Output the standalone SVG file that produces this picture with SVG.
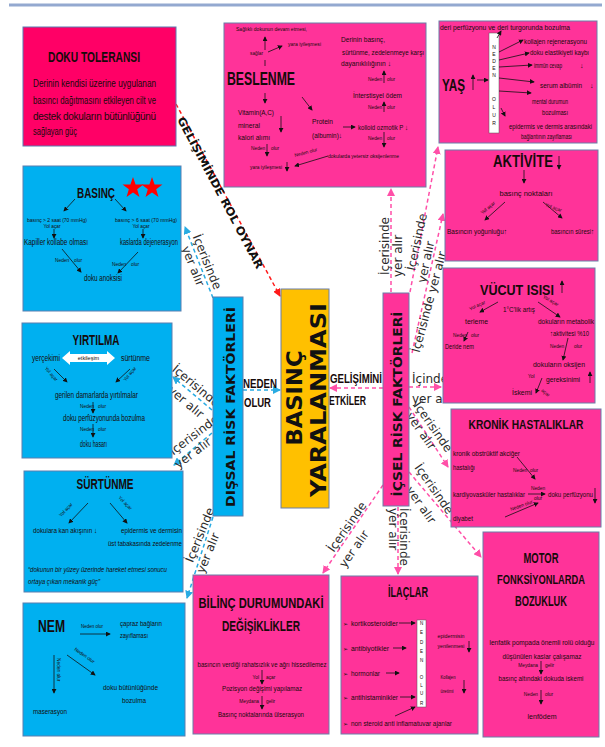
<svg xmlns="http://www.w3.org/2000/svg" width="605" height="747" viewBox="0 0 605 747">
<defs>
<style>
.c{font-family:"Liberation Sans","DejaVu Sans Condensed",sans-serif;fill:#160a0a}
.b{font-weight:bold}
.v{font-family:"DejaVu Sans",sans-serif}
.lab{font-family:"DejaVu Sans",sans-serif;font-size:12px;fill:#2b2b2b}
.pk{fill:#ff3399;stroke:#6b7ea8;stroke-width:1}
.bl{fill:#00b0f0;stroke:#5a7fb0;stroke-width:1}
.ln{stroke:#111;stroke-width:0.8;fill:none;marker-end:url(#a)}
.pl{stroke:#111;stroke-width:0.8;fill:none}
.cb{stroke:#29abe2;stroke-width:1.5;fill:none;stroke-dasharray:4 3;marker-end:url(#mb)}
.cp{stroke:#ff4fa8;stroke-width:1.5;fill:none;stroke-dasharray:4 3;marker-end:url(#mp)}
.cr{stroke:#ff1a1a;stroke-width:1.5;fill:none;stroke-dasharray:4 3;marker-end:url(#mr)}
.xs{font-size:4.8px}
.s7{font-size:7.4px}
.s8{font-size:8.4px}
</style>
<marker id="a" viewBox="0 0 6 6" refX="5" refY="3" markerWidth="5" markerHeight="5" markerUnits="userSpaceOnUse" orient="auto"><path d="M0,0 L6,3 L0,6 z" fill="#111"/></marker>
<marker id="mb" viewBox="0 0 8 8" refX="7" refY="4" markerWidth="8" markerHeight="8" markerUnits="userSpaceOnUse" orient="auto"><path d="M0,0 L8,4 L0,8 z" fill="#29abe2"/></marker>
<marker id="mp" viewBox="0 0 8 8" refX="7" refY="4" markerWidth="8" markerHeight="8" markerUnits="userSpaceOnUse" orient="auto"><path d="M0,0 L8,4 L0,8 z" fill="#ff4fa8"/></marker>
<marker id="mr" viewBox="0 0 8 8" refX="7" refY="4" markerWidth="8" markerHeight="8" markerUnits="userSpaceOnUse" orient="auto"><path d="M0,0 L8,4 L0,8 z" fill="#ff1a1a"/></marker>
<path id="star" d="M0,-11 L2.59,-3.56 L10.46,-3.4 L4.18,1.36 L6.47,8.9 L0,4.4 L-6.47,8.9 L-4.18,1.36 L-10.46,-3.4 L-2.59,-3.56 z" fill="#ff0000"/>
</defs>
<rect width="605" height="747" fill="#ffffff"/>
<line x1="9" y1="5" x2="602" y2="5" stroke="#94a9d0" stroke-width="3"/>

<g id="connectors">
<path class="cr" d="M176,104 L280,296"/>
<text class="v b" font-size="11" fill="#111" textLength="170" lengthAdjust="spacingAndGlyphs" text-anchor="middle" dominant-baseline="central" transform="translate(220,193) rotate(62)">GELİŞİMİNDE ROL OYNAR</text>

<path class="cb" d="M243,390 L280,390"/>
<text class="c b" font-size="12" x="243" y="388" textLength="34" lengthAdjust="spacingAndGlyphs">NEDEN</text>
<text class="c b" font-size="12" x="244" y="407" textLength="27" lengthAdjust="spacingAndGlyphs">OLUR</text>
<path class="cp" d="M383,388 L330,388"/>
<text class="c b" font-size="12" x="330" y="383" textLength="52" lengthAdjust="spacingAndGlyphs">GELİŞİMİNİ</text>
<text class="c b" font-size="12" x="329" y="405" textLength="37" lengthAdjust="spacingAndGlyphs">ETKİLER</text>

<path class="cb" d="M213,298 L185,227"/>
<text class="lab" text-anchor="middle" dominant-baseline="central" transform="translate(207,262) rotate(68)">İçerisinde</text>
<text class="lab" text-anchor="middle" dominant-baseline="central" transform="translate(193,266) rotate(68)">yer alır</text>

<path class="cb" d="M212,410 L173,377"/>
<text class="lab" text-anchor="middle" dominant-baseline="central" transform="translate(196,386) rotate(40)">İçerisinde</text>
<text class="lab" text-anchor="middle" dominant-baseline="central" transform="translate(186,402) rotate(40)">yer alır</text>

<path class="cb" d="M212,433 L174,465"/>
<text class="lab" text-anchor="middle" dominant-baseline="central" transform="translate(194,435) rotate(-37)">İçerisinde</text>
<text class="lab" text-anchor="middle" dominant-baseline="central" transform="translate(193,453) rotate(-37)">yer alır</text>

<path class="cb" d="M213,517 L187,598"/>
<text class="lab" text-anchor="middle" dominant-baseline="central" transform="translate(200,535) rotate(-68)">İçerisinde</text>
<text class="lab" text-anchor="middle" dominant-baseline="central" transform="translate(208,553) rotate(-68)">yer alır</text>

<path class="cp" d="M391,292 L391,189"/>
<text class="lab" text-anchor="middle" dominant-baseline="central" transform="translate(385,246) rotate(-90)">İçerisinde</text>
<text class="lab" text-anchor="middle" dominant-baseline="central" transform="translate(398,256) rotate(-90)">yer alır</text>

<path class="cp" d="M410,292 L438,147"/>
<text class="lab" text-anchor="middle" dominant-baseline="central" transform="translate(417,242) rotate(-78)">İçerisinde</text>
<text class="lab" text-anchor="middle" dominant-baseline="central" transform="translate(426,262) rotate(-78)">yer alır</text>

<path class="cp" d="M412,353 L443,214"/>
<text class="lab" text-anchor="middle" dominant-baseline="central" transform="translate(429,302) rotate(-75)">İçerisinde yer alır</text>

<path class="cp" d="M409,387 L441,387"/>
<text class="lab" x="412" y="383">İçinde</text>
<text class="lab" x="412" y="403">yer alır</text>

<path class="cp" d="M409,407 L448,467"/>
<text class="lab" text-anchor="middle" dominant-baseline="central" transform="translate(433,427) rotate(55)">İçerisinde</text>
<text class="lab" text-anchor="middle" dominant-baseline="central" transform="translate(421,431) rotate(55)">yer alır</text>

<path class="cp" d="M409,472 L481,557"/>
<text class="lab" text-anchor="middle" dominant-baseline="central" transform="translate(434,489) rotate(55)">İçerisinde</text>
<text class="lab" text-anchor="middle" dominant-baseline="central" transform="translate(421,505) rotate(55)">yer alır</text>

<path class="cp" d="M398,507 L398,574"/>
<text class="lab" dominant-baseline="central" transform="translate(404,508) rotate(90)">İçerisinde</text>
<text class="lab" dominant-baseline="central" transform="translate(393,508) rotate(90)">yer alır</text>

<path class="cp" d="M383,485 L323,573"/>
<text class="lab" text-anchor="middle" dominant-baseline="central" transform="translate(347,527) rotate(-55)">İçerisinde</text>
<text class="lab" text-anchor="middle" dominant-baseline="central" transform="translate(354,549) rotate(-55)">yer alır</text>
</g>

<g id="basinc-yaralanmasi">
<rect x="281" y="289" width="48" height="219" fill="#ffc000" stroke="#6b7ea8"/>
<text class="v b" font-size="22" fill="#111" text-anchor="middle" dominant-baseline="central" textLength="95" lengthAdjust="spacingAndGlyphs" transform="translate(294,398) rotate(-90)">BASINÇ</text>
<text class="v b" font-size="22" fill="#111" text-anchor="middle" dominant-baseline="central" textLength="194" lengthAdjust="spacingAndGlyphs" transform="translate(318,400) rotate(-90)">YARALANMASI</text>
</g>

<g id="dissal">
<rect x="213" y="297" width="30" height="219" class="bl"/>
<text class="v b" font-size="13" fill="#111" text-anchor="middle" dominant-baseline="central" textLength="200" lengthAdjust="spacingAndGlyphs" transform="translate(230,407) rotate(-90)">DIŞSAL RİSK FAKTÖRLERİ</text>
</g>

<g id="icsel">
<rect x="383" y="293" width="26" height="213" class="pk"/>
<text class="v b" font-size="13" fill="#111" text-anchor="middle" dominant-baseline="central" textLength="185" lengthAdjust="spacingAndGlyphs" transform="translate(397,404) rotate(-90)">İÇSEL RİSK FAKTÖRLERİ</text>
</g>

<g id="doku-toleransi">
<rect x="23" y="27" width="153" height="119" fill="#ff0066" stroke="#5b7ab0"/>
<text class="c b" font-size="14" x="94" y="62" text-anchor="middle" textLength="92" lengthAdjust="spacingAndGlyphs">DOKU TOLERANSI</text>
<text class="c" font-size="10" fill="#3d0018" x="33" y="87" textLength="123" lengthAdjust="spacingAndGlyphs">Derinin kendisi üzerine uygulanan</text>
<text class="c" font-size="10" fill="#3d0018" x="33" y="103.5" textLength="123" lengthAdjust="spacingAndGlyphs">basıncı dağıtmasını etkileyen cilt ve</text>
<text class="c" font-size="10" fill="#3d0018" x="33" y="120" textLength="123" lengthAdjust="spacing">destek dokuların bütünlüğünü</text>
<text class="c" font-size="10" fill="#3d0018" x="33" y="135" textLength="44" lengthAdjust="spacingAndGlyphs">sağlayan güç</text>
</g>

<g id="basinc">
<rect x="23" y="166" width="158" height="145" class="bl"/>
<text class="c b" font-size="14" x="96" y="198" text-anchor="middle" textLength="38" lengthAdjust="spacingAndGlyphs">BASINÇ</text>
<use href="#star" x="133" y="188"/>
<use href="#star" x="152" y="188"/>
<path class="ln" d="M75,199 L64,211"/>
<path class="ln" d="M115,199 L126,211"/>
<text class="c" font-size="6" x="57" y="222" text-anchor="middle" textLength="60" lengthAdjust="spacingAndGlyphs">basınç &gt; 2 saat (70  mmHg)</text>
<text class="c xs" x="52" y="228" text-anchor="middle">Yol açar</text>
<path class="ln" d="M54,229 L54,238"/>
<text class="c s8" x="24" y="245" textLength="64" lengthAdjust="spacingAndGlyphs">Kapiller kollabe olması</text>
<text class="c" font-size="6" x="146" y="222" text-anchor="middle" textLength="62" lengthAdjust="spacingAndGlyphs">basınç &gt; 6 saat (70  mmHg)</text>
<text class="c xs" x="141" y="228" text-anchor="middle">Yol açar</text>
<path class="ln" d="M143,229 L143,238"/>
<text class="c s8" x="149" y="245" text-anchor="middle" textLength="58" lengthAdjust="spacingAndGlyphs">kaslarda dejenerasyon</text>
<path class="ln" d="M62,249 L81,272"/>
<path class="ln" d="M138,252 L118,273"/>
<text class="c xs" x="55" y="262">Neden</text>
<text class="c xs" x="74" y="262">olur</text>
<text class="c xs" x="112" y="266">Neden</text>
<text class="c xs" x="131" y="266">olur</text>
<text class="c s8" x="103" y="281" text-anchor="middle" textLength="38" lengthAdjust="spacingAndGlyphs">doku anoksisi</text>
</g>

<g id="yirtilma">
<rect x="22" y="323" width="150" height="135" class="bl"/>
<text class="c b" font-size="14" x="96" y="345" text-anchor="middle" textLength="47" lengthAdjust="spacingAndGlyphs">YIRTILMA</text>
<text class="c s8" x="32" y="361" textLength="28" lengthAdjust="spacingAndGlyphs">yerçekimi</text>
<polygon points="62,358 70,351 70,354 107,354 107,351 115,358 107,365 107,362 70,362 70,365" fill="#ffffff"/>
<text class="c" font-size="5.5" fill="#777" x="88.5" y="360" text-anchor="middle">etkileşim</text>
<text class="c s8" x="121" y="361" textLength="29" lengthAdjust="spacingAndGlyphs">sürtünme</text>
<path class="ln" d="M54,369 L67,382"/>
<path class="ln" d="M130,369 L116,382"/>
<text class="c xs" text-anchor="middle" transform="translate(50,375) rotate(50)">Yol açar</text>
<text class="c xs" text-anchor="middle" transform="translate(131,375) rotate(-50)">Yol açar</text>
<text class="c s8" x="55" y="398" textLength="83" lengthAdjust="spacingAndGlyphs">gerilen damarlarda yırtılmalar</text>
<text class="c xs" x="80" y="408">Neden</text>
<path class="ln" d="M93,402 L93,413"/>
<text class="c xs" x="98" y="408">olur</text>
<text class="c s8" x="63" y="421" textLength="82" lengthAdjust="spacingAndGlyphs">doku perfüzyonunda bozulma</text>
<text class="c xs" x="80" y="431">Neden</text>
<path class="ln" d="M93,424 L93,437"/>
<text class="c xs" x="98" y="431">olur</text>
<text class="c s8" x="80" y="447" textLength="27" lengthAdjust="spacingAndGlyphs">doku hasarı</text>
</g>

<g id="surtunme">
<rect x="24" y="471" width="159" height="121" class="bl"/>
<text class="c b" font-size="14" x="105" y="489" text-anchor="middle" textLength="57" lengthAdjust="spacingAndGlyphs">SÜRTÜNME</text>
<path class="ln" d="M88,503 L69,523"/>
<path class="ln" d="M110,503 L127,523"/>
<text class="c xs" text-anchor="middle" transform="translate(67,511) rotate(-48)">Yol açar</text>
<text class="c xs" text-anchor="middle" transform="translate(124,504) rotate(45)">Yol açar</text>
<text class="c s7" x="33" y="533" textLength="64" lengthAdjust="spacingAndGlyphs">dokulara kan akışının ↓</text>
<text class="c s7" x="121" y="533" textLength="61" lengthAdjust="spacingAndGlyphs">epidermis ve dermisin</text>
<text class="c s7" x="108" y="546" textLength="74" lengthAdjust="spacingAndGlyphs">üst tabakasında zedelenme</text>
<text class="c" font-size="7" font-style="italic" x="28" y="572" textLength="139" lengthAdjust="spacingAndGlyphs">“dokunun bir yüzey üzerinde hareket etmesi sonucu</text>
<text class="c" font-size="7" font-style="italic" x="28" y="584" textLength="72" lengthAdjust="spacingAndGlyphs">ortaya çıkan mekanik güç”</text>
</g>

<g id="nem">
<rect x="23" y="603" width="162" height="133" class="bl"/>
<text class="c b" font-size="17" x="38" y="632" textLength="27" lengthAdjust="spacingAndGlyphs">NEM</text>
<text class="c xs" x="81" y="628" textLength="22" lengthAdjust="spacingAndGlyphs">Neden olur</text>
<path class="ln" d="M80,634 L110,634"/>
<text class="c s7" x="120" y="626" textLength="42" lengthAdjust="spacingAndGlyphs">çapraz bağların</text>
<text class="c s7" x="120" y="638" textLength="28" lengthAdjust="spacingAndGlyphs">zayıflaması</text>
<path class="ln" d="M67,655 L95,675"/>
<text class="c xs" transform="translate(74,650) rotate(35)">Neden olur</text>
<path class="ln" d="M54,655 L54,693"/>
<text class="c xs" transform="translate(57,658) rotate(90)">Neden olur</text>
<text class="c s7" x="103" y="690" textLength="55" lengthAdjust="spacingAndGlyphs">doku bütünlüğünde</text>
<text class="c s7" x="122" y="703" textLength="24" lengthAdjust="spacingAndGlyphs">bozulma</text>
<text class="c s7" x="33" y="714" textLength="34" lengthAdjust="spacingAndGlyphs">maserasyon</text>
</g>

<g id="beslenme">
<rect x="224" y="23" width="202" height="164" class="pk"/>
<text class="c" font-size="5.3" x="236" y="31" textLength="71" lengthAdjust="spacingAndGlyphs">Sağlıklı dokunun devam etmesi,</text>
<path class="ln" d="M265,50 L265,37"/>
<text class="c" font-size="5.3" x="250" y="55" textLength="13" lengthAdjust="spacingAndGlyphs">sağlar</text>
<path class="ln" d="M268,52 L282,46"/>
<text class="c" font-size="5.3" x="288" y="46" textLength="33" lengthAdjust="spacingAndGlyphs">yara iyileşmesi</text>
<path class="pl" d="M265,60 L265,66"/>
<text class="c b" font-size="19" x="227" y="85" textLength="68" lengthAdjust="spacingAndGlyphs">BESLENME</text>
<text class="c s7" x="341" y="42" textLength="44" lengthAdjust="spacingAndGlyphs">Derinin basınç,</text>
<text class="c s7" x="342" y="55" textLength="82" lengthAdjust="spacingAndGlyphs">sürtünme, zedelenmeye karşı</text>
<text class="c s7" x="341" y="66" textLength="50" lengthAdjust="spacingAndGlyphs">dayanıklılığının ↓</text>
<path class="ln" d="M384,83 L384,71"/>
<text class="c xs" x="368" y="81">Neden</text>
<text class="c xs" x="387" y="81">olur</text>
<text class="c s7" x="353" y="98" textLength="49" lengthAdjust="spacingAndGlyphs">İnterstisyel ödem</text>
<path class="ln" d="M384,112 L384,102"/>
<text class="c xs" x="368" y="109">Neden</text>
<text class="c xs" x="387" y="109">olur</text>
<path class="ln" d="M265,93 L265,103"/>
<path class="ln" d="M302,97 L312,110"/>
<text class="c s7" x="238" y="115" textLength="36" lengthAdjust="spacingAndGlyphs">Vitamin(A,C)</text>
<text class="c s7" x="238" y="128" textLength="22" lengthAdjust="spacingAndGlyphs">mineral</text>
<text class="c s7" x="238" y="140" textLength="32" lengthAdjust="spacingAndGlyphs">kalori alımı</text>
<path class="ln" d="M281,116 L281,132"/>
<text class="c s7" x="312" y="124" textLength="21" lengthAdjust="spacingAndGlyphs">Protein</text>
<text class="c s7" x="312" y="138" textLength="30" lengthAdjust="spacingAndGlyphs">(albumin)↓</text>
<path class="ln" d="M343,127 L355,127"/>
<text class="c s7" x="358" y="130" textLength="50" lengthAdjust="spacingAndGlyphs">kolloid ozmotik P ↓</text>
<path class="ln" d="M384,132 L384,147"/>
<text class="c xs" x="368" y="140">Neden</text>
<text class="c xs" x="387" y="140">olur</text>
<text class="c xs" x="251" y="150">Neden</text>
<path class="ln" d="M267,144 L267,156"/>
<text class="c xs" x="271" y="150">olur</text>
<text class="c" font-size="5.3" x="328" y="158" textLength="71" lengthAdjust="spacingAndGlyphs">dokularda yetersiz oksijenlenme</text>
<path class="ln" d="M328,156 L295,166"/>
<text class="c xs" transform="translate(295,157) rotate(-15)">Neden  olur</text>
<text class="c" font-size="5.3" x="250" y="169" textLength="32" lengthAdjust="spacingAndGlyphs">yara iyileşmesi</text>
<path class="ln" d="M287,162 L287,171"/>
</g>

<g id="yas">
<rect x="439" y="21" width="158" height="122" class="pk"/>
<text class="c" font-size="6.8" x="440" y="30" textLength="130" lengthAdjust="spacingAndGlyphs">deri perfüzyonu ve deri turgorunda bozulma</text>
<text class="c b" font-size="16" x="442" y="91" textLength="23" lengthAdjust="spacingAndGlyphs">YAŞ</text>
<path class="ln" d="M473,90 L473,75"/>
<path class="ln" d="M477,80 L488,80"/>
<rect x="489" y="33" width="10" height="100" fill="#ffffff" stroke="#555" stroke-width="0.5"/>
<g class="c" font-size="5" text-anchor="middle">
<text x="494" y="49">N</text><text x="494" y="56">E</text><text x="494" y="63">D</text><text x="494" y="70">E</text><text x="494" y="77">N</text>
<text x="494" y="101">O</text><text x="494" y="109">L</text><text x="494" y="117">U</text><text x="494" y="125">R</text>
</g>
<path class="ln" d="M497,38 L501,31"/>
<path class="ln" d="M499,52 L523,40"/>
<path class="ln" d="M499,60 L529,53"/>
<path class="ln" d="M499,67 L532,65"/>
<path class="ln" d="M499,78 L534,82"/>
<path class="ln" d="M499,91 L531,93"/>
<path class="ln" d="M501,108 L505,116"/>
<text class="c" font-size="6.8" x="524" y="44" textLength="63" lengthAdjust="spacingAndGlyphs">kollajen rejenerasyonu</text>
<text class="c" font-size="6.8" x="530" y="55" textLength="59" lengthAdjust="spacingAndGlyphs">doku elastikiyeti kaybı</text>
<text class="c" font-size="6.8" x="534" y="68" textLength="28" lengthAdjust="spacingAndGlyphs">immün cevap</text>
<text class="c" font-size="7" x="580" y="68">↓</text>
<text class="c" font-size="6.8" x="540" y="88" textLength="42" lengthAdjust="spacingAndGlyphs">serum albümin</text>
<text class="c" font-size="7" x="590" y="88">↓</text>
<text class="c" font-size="6.8" x="532" y="104" textLength="36" lengthAdjust="spacingAndGlyphs">mental durumun</text>
<text class="c" font-size="6.8" x="542" y="115" textLength="26" lengthAdjust="spacingAndGlyphs">bozulması</text>
<text class="c" font-size="6.8" x="509" y="129" textLength="83" lengthAdjust="spacingAndGlyphs">epidermis ve dermis arasındaki</text>
<text class="c" font-size="6.8" x="521" y="139" textLength="51" lengthAdjust="spacingAndGlyphs">bağlantının zayıflaması</text>
</g>

<g id="aktivite">
<rect x="445" y="150" width="153" height="111" class="pk"/>
<text class="c b" font-size="16" x="493" y="167" textLength="60" lengthAdjust="spacingAndGlyphs">AKTİVİTE</text>
<path class="ln" d="M559,156 L559,169"/>
<path class="ln" d="M524,170 L524,183"/>
<text class="c s7" x="526" y="196" text-anchor="middle" textLength="53" lengthAdjust="spacingAndGlyphs">basınç noktaları</text>
<path class="ln" d="M505,202 L485,220"/>
<path class="ln" d="M543,202 L562,218"/>
<text class="c xs" text-anchor="middle" transform="translate(489,209) rotate(-40)">Yol açar</text>
<text class="c xs" text-anchor="middle" transform="translate(553,209) rotate(20)">Yol açar</text>
<text class="c s7" x="447" y="234" textLength="60" lengthAdjust="spacingAndGlyphs">Basıncın yoğunluğu↑</text>
<text class="c s7" x="551" y="234" textLength="43" lengthAdjust="spacingAndGlyphs">basıncın süresi↑</text>
</g>

<g id="vucut-isisi">
<rect x="443" y="268" width="152" height="135" class="pk"/>
<text class="c b" font-size="14" x="480" y="295" textLength="74" lengthAdjust="spacingAndGlyphs">VÜCUT ISISI</text>
<path class="ln" d="M562,293 L562,281"/>
<text class="c s7" x="503" y="312" textLength="32" lengthAdjust="spacingAndGlyphs">1°C'lik artış</text>
<text class="c xs" text-anchor="middle" transform="translate(478,307) rotate(-25)">Yol açar</text>
<text class="c xs" text-anchor="middle" transform="translate(550,302) rotate(30)">Yol açar</text>
<path class="ln" d="M498,302 L480,312"/>
<path class="ln" d="M538,302 L560,317"/>
<text class="c s7" x="465" y="324" textLength="23" lengthAdjust="spacingAndGlyphs">terleme</text>
<text class="c s7" x="538" y="324" textLength="56" lengthAdjust="spacingAndGlyphs">dokuların metabolik</text>
<text class="c s7" x="550" y="336" textLength="39" lengthAdjust="spacingAndGlyphs">↑aktivitesi %10</text>
<text class="c xs" x="453" y="337">Neden</text>
<path class="ln" d="M468,332 L464,341"/>
<text class="c xs" x="471" y="337">olur</text>
<text class="c s7" x="445" y="349" textLength="29" lengthAdjust="spacingAndGlyphs">Deride nem</text>
<text class="c xs" x="550" y="348">Neden</text>
<path class="ln" d="M568,338 L563,360"/>
<text class="c xs" x="574" y="348">olur</text>
<text class="c s7" x="533" y="367" textLength="52" lengthAdjust="spacingAndGlyphs">dokuların oksijen</text>
<text class="c s7" x="546" y="382" textLength="34" lengthAdjust="spacingAndGlyphs">gereksinimi</text>
<path class="ln" d="M590,383 L590,372"/>
<path class="ln" d="M542,378 L536,393"/>
<text class="c xs" x="528" y="378">Yol</text>
<text class="c xs" transform="translate(541,391) rotate(40)">açar</text>
<text class="c s7" x="512" y="395" textLength="20" lengthAdjust="spacingAndGlyphs">İskemi</text>
</g>

<g id="kronik">
<rect x="451" y="409" width="150" height="118" class="pk"/>
<text class="c b" font-size="12" x="526" y="429" text-anchor="middle" textLength="115" lengthAdjust="spacingAndGlyphs">KRONİK HASTALIKLAR</text>
<text class="c s7" x="453" y="456" textLength="67" lengthAdjust="spacingAndGlyphs">kronik obstrüktif akciğer</text>
<text class="c s7" x="453" y="470" textLength="22" lengthAdjust="spacingAndGlyphs">hastalığı</text>
<path class="ln" d="M517,457 L535,479"/>
<text class="c xs" x="513" y="472">Neden</text>
<text class="c xs" x="530" y="472">olur</text>
<text class="c" font-size="6.6" x="453" y="497" textLength="72" lengthAdjust="spacingAndGlyphs">kardiyovasküler hastalıklar</text>
<path class="ln" d="M528,494 L545,494"/>
<text class="c xs" x="538" y="490" text-anchor="middle">Neden</text>
<text class="c xs" x="538" y="500" text-anchor="middle">olur</text>
<text class="c s7" x="548" y="497" textLength="45" lengthAdjust="spacingAndGlyphs">doku perfüzyonu</text>
<path class="ln" d="M595,488 L595,503"/>
<path class="ln" d="M505,517 L538,503"/>
<text class="c xs" transform="translate(511,511) rotate(-20)">Neden olur</text>
<text class="c s7" x="453" y="521" textLength="20" lengthAdjust="spacingAndGlyphs">diyabet</text>
</g>

<g id="motor">
<rect x="483" y="532" width="116" height="205" class="pk"/>
<text class="c b" font-size="14" x="541" y="563" text-anchor="middle" textLength="35" lengthAdjust="spacingAndGlyphs">MOTOR</text>
<text class="c b" font-size="12" x="541" y="584" text-anchor="middle" textLength="88" lengthAdjust="spacingAndGlyphs">FONKSİYONLARDA</text>
<text class="c b" font-size="14" x="541" y="606" text-anchor="middle" textLength="52" lengthAdjust="spacingAndGlyphs">BOZUKLUK</text>
<text class="c" font-size="6.6" x="542" y="645" text-anchor="middle" textLength="105" lengthAdjust="spacingAndGlyphs">lenfatik pompada önemli rolü olduğu</text>
<text class="c s7" x="542" y="659" text-anchor="middle" textLength="79" lengthAdjust="spacingAndGlyphs">düşünülen kaslar çalışamaz</text>
<text class="c xs" x="538" y="667" text-anchor="end">Meydana</text>
<path class="ln" d="M541,661 L541,674"/>
<text class="c xs" x="545" y="667">gelir</text>
<text class="c s7" x="541" y="681" text-anchor="middle" textLength="85" lengthAdjust="spacingAndGlyphs">basınç altındaki dokuda iskemi</text>
<text class="c xs" x="538" y="696" text-anchor="end">Neden</text>
<path class="ln" d="M541,690 L541,704"/>
<text class="c xs" x="545" y="696">olur</text>
<text class="c s7" x="542" y="719" text-anchor="middle" textLength="29" lengthAdjust="spacingAndGlyphs">lenfödem</text>
</g>

<g id="bilinc">
<rect x="193" y="575" width="136" height="159" class="pk"/>
<text class="c b" font-size="14" x="261" y="608" text-anchor="middle" textLength="125" lengthAdjust="spacingAndGlyphs">BİLİNÇ DURUMUNDAKİ</text>
<text class="c b" font-size="14" x="261" y="631" text-anchor="middle" textLength="78" lengthAdjust="spacingAndGlyphs">DEĞİŞİKLİKLER</text>
<text class="c s7" x="262" y="667" text-anchor="middle" textLength="129" lengthAdjust="spacingAndGlyphs">basıncın verdiği rahatsızlık ve ağrı hissedilemez</text>
<text class="c xs" x="259" y="679" text-anchor="end">Yol</text>
<path class="ln" d="M262,670 L262,684"/>
<text class="c xs" x="266" y="679">açar</text>
<text class="c s7" x="262" y="691" text-anchor="middle" textLength="80" lengthAdjust="spacingAndGlyphs">Pozisyon değişimi yapılamaz</text>
<text class="c xs" x="259" y="703" text-anchor="end">Meydana</text>
<path class="ln" d="M262,696 L262,709"/>
<text class="c xs" x="266" y="703">gelir</text>
<text class="c s7" x="261" y="717" text-anchor="middle" textLength="86" lengthAdjust="spacingAndGlyphs">Basınç noktalarında ülserasyon</text>
</g>

<g id="ilaclar">
<rect x="341" y="576" width="137" height="158" class="pk"/>
<text class="c b" font-size="14" x="408" y="597" text-anchor="middle" textLength="40" lengthAdjust="spacingAndGlyphs">İLAÇLAR</text>
<g class="v" font-size="6" fill="#1e1212">
<text x="343" y="626">➢</text><text x="343" y="651">➢</text><text x="343" y="676">➢</text><text x="343" y="700">➢</text><text x="343" y="726">➢</text>
</g>
<text class="c s7" x="351" y="626" textLength="47" lengthAdjust="spacingAndGlyphs">kortikosteroidler</text>
<text class="c s7" x="351" y="651" textLength="38" lengthAdjust="spacingAndGlyphs">antibiyotikler</text>
<text class="c s7" x="351" y="676" textLength="29" lengthAdjust="spacingAndGlyphs">hormonlar</text>
<text class="c s7" x="351" y="700" textLength="47" lengthAdjust="spacingAndGlyphs">antihistaminikler</text>
<text class="c s7" x="351" y="726" textLength="101" lengthAdjust="spacingAndGlyphs">non steroid anti inflamatuvar ajanlar</text>
<path class="ln" d="M399,623 L415,623"/>
<path class="ln" d="M393,648 L406,648"/>
<path class="ln" d="M386,673 L399,673"/>
<path class="ln" d="M400,697 L415,697"/>
<path class="ln" d="M395,716 L415,707"/>
<rect x="417" y="620" width="9" height="87" fill="#ffffff" stroke="#555" stroke-width="0.5"/>
<g class="c" font-size="4.5" text-anchor="middle">
<text x="421.5" y="625">N</text><text x="421.5" y="634">E</text><text x="421.5" y="644">D</text><text x="421.5" y="653">E</text><text x="421.5" y="662">N</text>
<text x="421.5" y="679">O</text><text x="421.5" y="687">L</text><text x="421.5" y="695">U</text><text x="421.5" y="705">R</text>
</g>
<text class="c" font-size="5.5" x="451" y="638" text-anchor="middle" textLength="27" lengthAdjust="spacingAndGlyphs">epidermisin</text>
<text class="c" font-size="5.5" x="451" y="648" text-anchor="middle" textLength="27" lengthAdjust="spacingAndGlyphs">yenilenmesi</text>
<path class="ln" d="M469,641 L469,652"/>
<text class="c" font-size="5" x="448" y="679" text-anchor="middle" textLength="15" lengthAdjust="spacingAndGlyphs">Kollajen</text>
<text class="c" font-size="5" x="447" y="693" text-anchor="middle" textLength="13" lengthAdjust="spacingAndGlyphs">üretimi</text>
<path class="ln" d="M464,680 L464,693"/>
</g>
</svg>
